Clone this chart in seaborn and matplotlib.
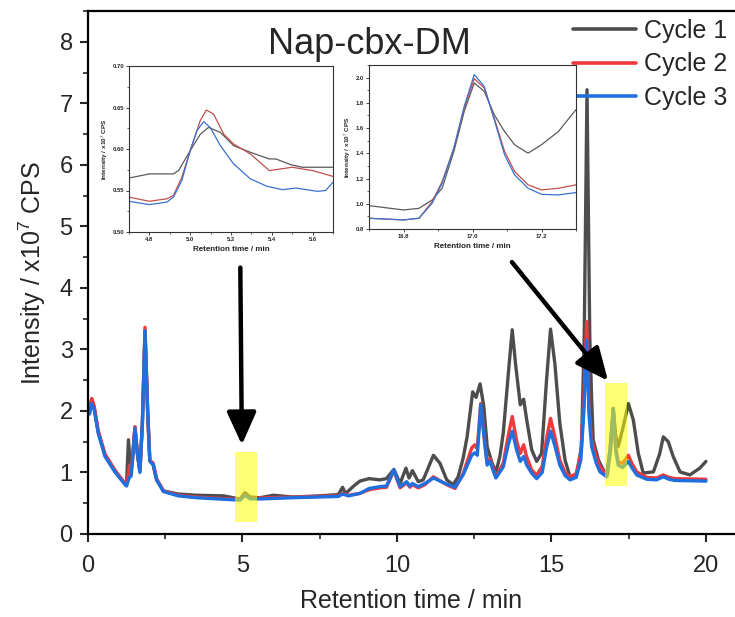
import numpy as np
import pandas as pd
import matplotlib
matplotlib.use("Agg")
import matplotlib.pyplot as plt
from matplotlib.patches import Rectangle
from matplotlib.lines import Line2D
from matplotlib.ticker import MultipleLocator, FormatStrFormatter
import seaborn as sns

# ---------------- data ----------------
cycles = ["Cycle 1", "Cycle 2", "Cycle 3"]
colors = ["#4d4d4d", "#f0393c", "#1f6fde"]
inset_colors = ["#5a5a5a", "#c0504d", "#3a72d0"]

t_c1 = [0.05, 0.12, 0.2, 0.33, 0.55, 0.87, 1.1, 1.2, 1.25, 1.31, 1.38, 1.44, 1.52, 1.6, 1.68,
        1.76, 1.845, 1.93, 2.0, 2.11, 2.22, 2.44, 2.92, 3.5, 4.38, 4.92, 5.08, 5.25, 5.57, 6.0,
        6.64, 7.5, 8.1, 8.24, 8.33, 8.43, 8.6, 8.8, 9.1, 9.45, 9.66, 9.9, 10.1, 10.29, 10.39,
        10.5, 10.69, 10.85, 11.18, 11.39, 11.61, 11.82, 11.98, 12.14, 12.27, 12.45, 12.56, 12.69,
        12.81, 12.92, 13.06, 13.2, 13.33, 13.44, 13.62, 13.73, 13.84, 13.99, 14.1, 14.2, 14.36,
        14.52, 14.68, 14.84, 14.97, 15.11, 15.27, 15.44, 15.6, 15.81, 15.97, 16.06, 16.15, 16.24,
        16.3, 16.35, 16.52, 16.68, 16.81, 16.92, 17.0, 17.08, 17.16, 17.32, 17.49, 17.65, 17.81,
        17.97, 18.3, 18.5, 18.62, 18.78, 18.94, 19.16, 19.48, 19.8, 20.0]
v_c1 = [2.0, 2.2, 2.05, 1.66, 1.28, 1.02, 0.88, 0.82, 0.85, 1.53, 1.0, 1.2, 1.74, 1.3, 1.02,
        1.8, 3.3, 2.0, 1.2, 1.12, 0.88, 0.7, 0.65, 0.63, 0.62, 0.57, 0.67, 0.6, 0.59, 0.63,
        0.6, 0.62, 0.64, 0.76, 0.66, 0.7, 0.78, 0.86, 0.9, 0.88, 0.9, 1.05, 0.82, 1.07, 0.91,
        1.03, 0.85, 0.88, 1.28, 1.15, 0.88, 0.8, 0.93, 1.23, 1.58, 2.31, 2.22, 2.44,
        2.07, 1.42, 1.18, 1.0, 1.26, 1.64, 2.7, 3.32, 2.75, 2.1, 2.19, 1.85, 1.37,
        1.18, 1.31, 2.5, 3.33, 2.77, 1.8, 1.2, 0.93, 0.96, 1.42, 3.2, 7.22, 3.2,
        2.2, 1.53, 1.2, 1.04, 0.96, 1.4, 2.04, 1.6, 1.42, 1.74, 2.12, 1.85, 1.31,
        0.99, 1.01, 1.3, 1.58, 1.5, 1.26, 1.01, 0.96, 1.07, 1.18]

t_c2 = [0.05, 0.12, 0.2, 0.33, 0.55, 0.87, 1.2, 1.28, 1.35, 1.4, 1.52, 1.6, 1.68, 1.76, 1.845,
        1.93, 2.0, 2.11, 2.22, 2.44, 2.92, 3.5, 4.92, 5.08, 5.25, 6.64, 8.1, 8.24, 8.43, 8.8,
        9.1, 9.45, 9.66, 9.9, 10.1, 10.31, 10.42, 10.5, 10.69, 10.9, 11.18, 11.61, 11.88, 12.14,
        12.42, 12.52, 12.6, 12.71, 12.85, 12.92, 13.01, 13.2, 13.44, 13.6, 13.73, 13.88, 13.99,
        14.1, 14.2, 14.36, 14.52, 14.7, 14.84, 14.97, 15.1, 15.27, 15.44, 15.6, 15.8, 15.95,
        16.05, 16.14, 16.22, 16.3, 16.45, 16.57, 16.79, 16.9, 17.0, 17.08, 17.16, 17.3, 17.49,
        17.6, 17.76, 18.08, 18.4, 18.62, 18.8, 19.0, 20.0]
v_c2 = [2.02, 2.2, 2.08, 1.68, 1.3, 1.04, 0.82, 0.9, 1.12, 1.0, 1.74, 1.3, 1.02, 1.8, 3.36,
        2.0, 1.2, 1.15, 0.9, 0.7, 0.63, 0.6, 0.56, 0.64, 0.58, 0.6, 0.62, 0.66, 0.63, 0.66,
        0.72, 0.75, 0.76, 1.03, 0.75, 0.83, 0.76, 0.8, 0.75, 0.8, 0.93, 0.8, 0.74, 0.98,
        1.4, 1.45, 1.38, 2.12, 1.45, 1.15, 1.22, 0.93, 1.15, 1.6, 1.91, 1.5, 1.31,
        1.45, 1.25, 1.04, 0.96, 1.1, 1.55, 1.88, 1.6, 1.2, 1.0, 0.93, 0.98, 1.3,
        2.2, 3.45, 2.0, 1.53, 1.25, 1.09, 0.96, 1.4, 2.04, 1.4, 1.17, 1.15, 1.28,
        1.15, 1.01, 0.92, 0.91, 0.96, 0.92, 0.9, 0.89]

t_c3 = [0.05, 0.12, 0.2, 0.33, 0.55, 0.87, 1.2, 1.25, 1.32, 1.4, 1.52, 1.6, 1.68, 1.76, 1.845,
        1.93, 2.0, 2.11, 2.22, 2.44, 2.92, 3.5, 4.92, 5.08, 5.25, 5.57, 6.64, 8.1, 8.24, 8.43,
        8.8, 9.1, 9.45, 9.66, 9.9, 10.1, 10.31, 10.42, 10.5, 10.69, 10.9, 11.18, 11.61, 11.88,
        12.14, 12.42, 12.52, 12.6, 12.71, 12.85, 12.92, 13.01, 13.2, 13.44, 13.6, 13.73, 13.88,
        13.99, 14.1, 14.2, 14.36, 14.52, 14.7, 14.84, 14.97, 15.1, 15.27, 15.44, 15.6, 15.8,
        15.95, 16.05, 16.14, 16.22, 16.3, 16.45, 16.57, 16.79, 16.9, 17.0, 17.08, 17.16, 17.3,
        17.49, 17.6, 17.76, 18.08, 18.4, 18.62, 18.8, 19.0, 20.0]
v_c3 = [1.95, 2.12, 2.02, 1.64, 1.26, 1.01, 0.8, 0.78, 0.9, 0.95, 1.72, 1.3, 1.0, 1.8, 3.3,
        2.0, 1.18, 1.13, 0.88, 0.69, 0.62, 0.59, 0.55, 0.63, 0.57, 0.57, 0.59, 0.61, 0.65, 0.62,
        0.66, 0.74, 0.77, 0.78, 1.04, 0.77, 0.85, 0.78, 0.82, 0.77, 0.82, 0.91, 0.81, 0.76,
        0.96, 1.28, 1.32, 1.28, 2.1, 1.42, 1.12, 1.18, 0.91, 1.09, 1.45, 1.67, 1.35,
        1.18, 1.26, 1.12, 0.99, 0.9, 1.0, 1.4, 1.67, 1.45, 1.12, 0.95, 0.88, 0.92,
        1.2, 2.0, 3.15, 1.9, 1.42, 1.15, 1.01, 0.93, 1.4, 2.04, 1.35, 1.12, 1.08,
        1.18, 1.08, 0.96, 0.89, 0.88, 0.93, 0.89, 0.87, 0.86]

# inset 1 (4.7 - 5.7 min)
i1_t_c1 = [4.70, 4.80, 4.918, 4.943, 5.0, 5.05, 5.09, 5.148, 5.213, 5.295, 5.388, 5.42, 5.494, 5.55, 5.70]
i1_v_c1 = [0.565, 0.570, 0.570, 0.574, 0.598, 0.618, 0.626, 0.620, 0.604, 0.596, 0.588, 0.588, 0.581, 0.578, 0.578]
i1_t_c2 = [4.70, 4.80, 4.885, 4.918, 4.959, 5.0, 5.049, 5.079, 5.115, 5.164, 5.213, 5.295, 5.388, 5.50, 5.60, 5.70]
i1_v_c2 = [0.542, 0.537, 0.540, 0.544, 0.566, 0.598, 0.634, 0.647, 0.642, 0.618, 0.606, 0.594, 0.574, 0.578, 0.574, 0.567]
i1_t_c3 = [4.70, 4.80, 4.885, 4.918, 4.959, 5.0, 5.033, 5.066, 5.098, 5.148, 5.213, 5.295, 5.377, 5.453, 5.518, 5.623, 5.664, 5.70]
i1_v_c3 = [0.537, 0.533, 0.536, 0.542, 0.562, 0.598, 0.622, 0.633, 0.626, 0.604, 0.582, 0.564, 0.555, 0.551, 0.553, 0.549, 0.550, 0.560]

# inset 2 (16.7 - 17.3 min)
i2_t = [16.70, 16.80, 16.845, 16.883, 16.912, 16.946, 16.976, 17.005, 17.034, 17.063, 17.093, 17.122, 17.161, 17.20, 17.249, 17.30]
i2_v_c1 = [0.985, 0.951, 0.964, 1.03, 1.123, 1.415, 1.732, 1.958, 1.891, 1.706, 1.573, 1.468, 1.401, 1.468, 1.573, 1.746]
i2_v_c2 = [0.885, 0.872, 0.885, 1.017, 1.176, 1.441, 1.759, 1.992, 1.918, 1.679, 1.415, 1.256, 1.150, 1.110, 1.123, 1.150]
i2_v_c3 = [0.885, 0.872, 0.885, 1.004, 1.163, 1.441, 1.772, 2.024, 1.931, 1.666, 1.388, 1.229, 1.123, 1.075, 1.070, 1.089]

# ---------------- style ----------------
sns.set_style("ticks")
plt.rcParams["font.family"] = ["Liberation Sans", "DejaVu Sans"]
plt.rcParams["mathtext.fontset"] = "custom"
plt.rcParams["mathtext.rm"] = "Liberation Sans"
plt.rcParams["mathtext.it"] = "Liberation Sans:italic"
plt.rcParams["mathtext.bf"] = "Liberation Sans:bold"

def long_df(ts, vs):
    frames = []
    for name, t, v in zip(cycles, ts, vs):
        frames.append(pd.DataFrame({"time": t, "intensity": v, "cycle": name}))
    return pd.concat(frames, ignore_index=True)

main_df = long_df([t_c1, t_c2, t_c3], [v_c1, v_c2, v_c3])
in1_df = long_df([i1_t_c1, i1_t_c2, i1_t_c3], [i1_v_c1, i1_v_c2, i1_v_c3])
in2_df = long_df([i2_t, i2_t, i2_t], [i2_v_c1, i2_v_c2, i2_v_c3])

fig = plt.figure(figsize=(7.35, 6.17), dpi=100)
ax = fig.add_axes([88 / 735, 83 / 617, 1 - 88 / 735, 523 / 617])

sns.lineplot(data=main_df, x="time", y="intensity", hue="cycle", hue_order=cycles,
             palette=dict(zip(cycles, colors)), sort=False, estimator=None,
             linewidth=2.4, legend=False, ax=ax)

ax.set_xlim(0, 20.94)
ax.set_ylim(0, 8.5)
ax.xaxis.set_major_locator(MultipleLocator(5))
ax.xaxis.set_minor_locator(MultipleLocator(2.5))
ax.yaxis.set_major_locator(MultipleLocator(1))
ax.yaxis.set_minor_locator(MultipleLocator(0.5))
ax.tick_params(which="major", direction="out", length=6, width=1.5, labelsize=17,
               top=False, right=False)
ax.tick_params(axis="x", which="major", pad=9)
ax.tick_params(axis="y", which="major", pad=5)
ax.tick_params(which="minor", direction="out", length=3.5, width=1.2, top=False, right=False)
for side in ["left", "bottom", "top"]:
    ax.spines[side].set_linewidth(1.6)
    ax.spines[side].set_color("black")
ax.spines["right"].set_visible(False)
ax.set_xlabel("Retention time / min", fontsize=18, labelpad=9)
ax.set_ylabel(r"Intensity / x10$^{7}$ CPS", fontsize=18, labelpad=8)

# highlight rectangles
ax.add_patch(Rectangle((4.76, 0.2), 0.71, 1.13, facecolor="#ffff00", alpha=0.55,
                       edgecolor="none", zorder=5))
ax.add_patch(Rectangle((16.73, 0.78), 0.71, 1.68, facecolor="#ffff00", alpha=0.55,
                       edgecolor="none", zorder=5))

# arrows
arrow_kw = dict(arrowstyle="-|>,head_length=1.0,head_width=0.45", lw=3.2, color="black",
                mutation_scale=20, shrinkA=0, shrinkB=0)
ax.annotate("", xy=(4.98, 1.45), xytext=(4.93, 4.33), arrowprops=arrow_kw, zorder=6)
ax.annotate("", xy=(16.83, 2.49), xytext=(13.72, 4.42), arrowprops=arrow_kw, zorder=6)

# title
fig.text(369 / 735, 1 - 44 / 617, "Nap-cbx-DM", fontsize=26, ha="center", va="center")

# legend
handles = [Line2D([0], [0], color=c, lw=2.6) for c in colors]
ax.legend(handles, cycles, loc="upper left", bbox_to_anchor=(573 / 735, 1 - 19 / 617),
          bbox_transform=fig.transFigure, frameon=False, fontsize=18, handlelength=2.5,
          handletextpad=0.35, labelspacing=0.38, borderpad=0, borderaxespad=0)

# ---------------- insets ----------------
def style_inset(axi):
    for s in axi.spines.values():
        s.set_linewidth(0.8)
        s.set_color("#333333")
    axi.tick_params(which="major", direction="out", length=2, width=0.6, labelsize=4.2, pad=1.5)
    axi.tick_params(which="minor", direction="out", length=1.2, width=0.5)
    for lab in axi.get_xticklabels() + axi.get_yticklabels():
        lab.set_fontweight("bold")
    axi.set_xlabel("Retention time / min", fontsize=5.8, fontweight="bold", labelpad=3)
    axi.set_ylabel(r"Intensity / x10$^{7}$ CPS", fontsize=4.6, fontweight="bold", labelpad=2)
    axi.patch.set_facecolor("white")

ax1 = fig.add_axes([129 / 735, 1 - 232 / 617, 204 / 735, 166 / 617])
sns.lineplot(data=in1_df, x="time", y="intensity", hue="cycle", hue_order=cycles,
             palette=dict(zip(cycles, inset_colors)), sort=False, estimator=None,
             linewidth=0.9, legend=False, ax=ax1)
ax1.set_xlim(4.7, 5.7)
ax1.set_ylim(0.50, 0.70)
ax1.xaxis.set_major_locator(MultipleLocator(0.2))
ax1.xaxis.set_minor_locator(MultipleLocator(0.1))
ax1.yaxis.set_major_locator(MultipleLocator(0.05))
ax1.yaxis.set_minor_locator(MultipleLocator(0.025))
ax1.xaxis.set_major_formatter(FormatStrFormatter("%.1f"))
ax1.yaxis.set_major_formatter(FormatStrFormatter("%.2f"))
style_inset(ax1)

ax2 = fig.add_axes([369 / 735, 1 - 229 / 617, 207 / 735, 164 / 617])
sns.lineplot(data=in2_df, x="time", y="intensity", hue="cycle", hue_order=cycles,
             palette=dict(zip(cycles, inset_colors)), sort=False, estimator=None,
             linewidth=0.9, legend=False, ax=ax2)
ax2.set_xlim(16.7, 17.3)
ax2.set_ylim(0.8, 2.1)
ax2.xaxis.set_major_locator(MultipleLocator(0.2))
ax2.xaxis.set_minor_locator(MultipleLocator(0.1))
ax2.yaxis.set_major_locator(MultipleLocator(0.2))
ax2.yaxis.set_minor_locator(MultipleLocator(0.1))
ax2.xaxis.set_major_formatter(FormatStrFormatter("%.1f"))
ax2.yaxis.set_major_formatter(FormatStrFormatter("%.1f"))
style_inset(ax2)

fig.savefig("out.png", dpi=100)
